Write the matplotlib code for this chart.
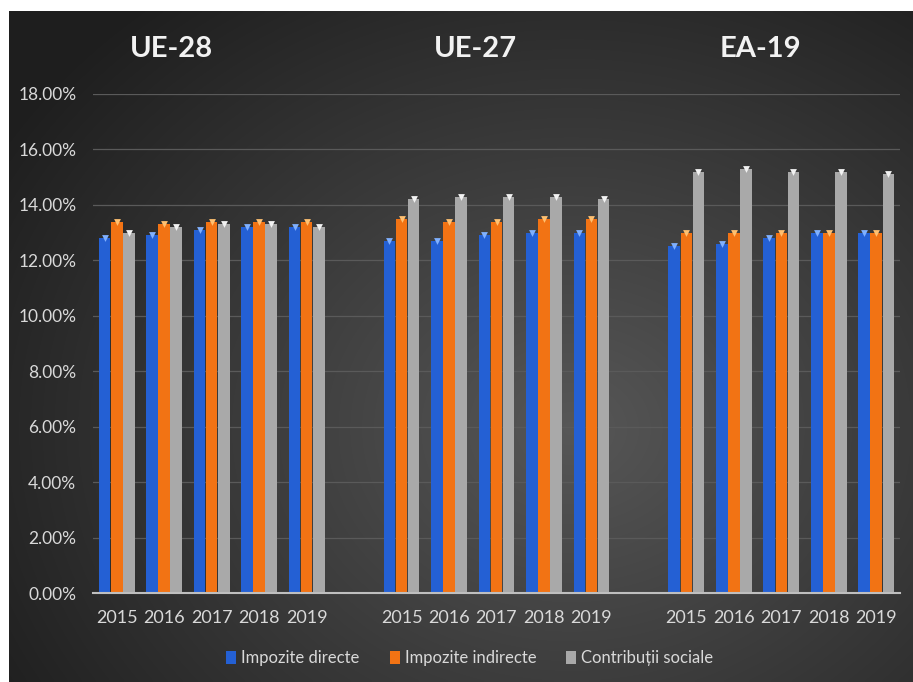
import numpy as np
import matplotlib
matplotlib.use("Agg")
import matplotlib.pyplot as plt
from matplotlib.patches import Patch
from matplotlib.transforms import blended_transform_factory

# ---- data ----
groups = ["UE-28", "UE-27", "EA-19"]
years = ["2015", "2016", "2017", "2018", "2019"]
series_names = ["Impozite directe", "Impozite indirecte", "Contribuții sociale"]
impozite_directe = [
    [12.8, 12.9, 13.1, 13.2, 13.2],
    [12.7, 12.7, 12.9, 13.0, 13.0],
    [12.5, 12.6, 12.8, 13.0, 13.0],
]
impozite_indirecte = [
    [13.4, 13.3, 13.4, 13.4, 13.4],
    [13.5, 13.4, 13.4, 13.5, 13.5],
    [13.0, 13.0, 13.0, 13.0, 13.0],
]
contributii_sociale = [
    [13.0, 13.2, 13.3, 13.3, 13.2],
    [14.2, 14.3, 14.3, 14.3, 14.2],
    [15.2, 15.3, 15.2, 15.2, 15.1],
]
y_ticks = [0, 2, 4, 6, 8, 10, 12, 14, 16, 18]

colors = ["#2460d4", "#f27314", "#a9a9a9"]
cap_colors = ["#7fb0ff", "#ffc070", "#f2f2f2"]

plt.rcParams['font.family'] = ['Lato', 'DejaVu Sans']

W, H = 913, 682
fig = plt.figure(figsize=(W / 100, H / 100), dpi=100)
fig.patch.set_facecolor("white")

# dark gradient background
bg = fig.add_axes([9 / W, 0, (W - 9) / W, (H - 11) / H])
bg.set_axis_off()
ny, nx = 200, 300
yy, xx = np.mgrid[0:ny, 0:nx]
cx, cy = nx * 0.62, ny * 0.62
r = np.sqrt(((xx - cx) / nx) ** 2 + ((yy - cy) / ny) ** 2 * 0.8)
val = 0.34 - 0.30 * r
val = np.clip(val, 0.12, 0.35)
img = np.dstack([val, val, val])
bg.imshow(img, aspect="auto", extent=[0, 1, 0, 1], origin="upper", interpolation="bilinear")
bg.set_xlim(0, 1)
bg.set_ylim(0, 1)

ax = fig.add_axes([93 / W, 1 - 593 / H, (900 - 93) / W, (593 - 94) / H])
ax.set_facecolor("none")

series = [impozite_directe, impozite_indirecte, contributii_sociale]
bar_w = 0.245
offsets = [-0.255, 0.0, 0.255]
tick_pos = []
tick_lab = []
for g in range(len(groups)):
    base = g * (len(years) + 1)
    for i, yr in enumerate(years):
        tick_pos.append(base + i)
        tick_lab.append(yr)
    for s in range(3):
        xs = [base + i + offsets[s] for i in range(len(years))]
        vals = series[s][g]
        ax.bar(xs, vals, width=bar_w, color=colors[s], zorder=3, linewidth=0)
        ax.scatter(xs, vals, marker="v", s=24, color=cap_colors[s], zorder=4, linewidths=0)

ax.set_xlim(-0.5, 16.5)
ax.set_ylim(0, 18)
ax.set_yticks(y_ticks)
ax.set_yticklabels([f"{t:.2f}%" for t in y_ticks], color="#d9d9d9", fontsize=12.5)
ax.set_xticks(tick_pos)
ax.set_xticklabels(tick_lab, color="#d9d9d9", fontsize=13)
ax.tick_params(axis="both", length=0)
ax.tick_params(axis="y", pad=12)
ax.tick_params(axis="x", pad=12)
ax.grid(axis="y", color="#5a5a5a", linewidth=0.9, zorder=0)
for sp in ["top", "right", "left"]:
    ax.spines[sp].set_visible(False)
ax.spines["bottom"].set_color("#bfbfbf")
ax.spines["bottom"].set_linewidth(1.5)
ax.spines["bottom"].set_zorder(5)

# group titles
trans = blended_transform_factory(ax.transData, fig.transFigure)
title_x = [1.15, 7.55, 13.55]
for g, name in enumerate(groups):
    fig.text(title_x[g], 1 - 49 / H, name, transform=trans, ha="center", va="center",
             fontsize=21, fontweight="bold", color="#f2f2f2")

handles = [Patch(facecolor=colors[s], edgecolor="none") for s in range(3)]
leg = fig.legend(handles, series_names, loc="center", bbox_to_anchor=(470 / W, 1 - 658 / H),
                 ncol=3, frameon=False, fontsize=12, handlelength=0.6, handleheight=0.8,
                 handletextpad=0.3, columnspacing=1.8)
for t in leg.get_texts():
    t.set_color("#d9d9d9")

fig.savefig("out.png", dpi=100)
